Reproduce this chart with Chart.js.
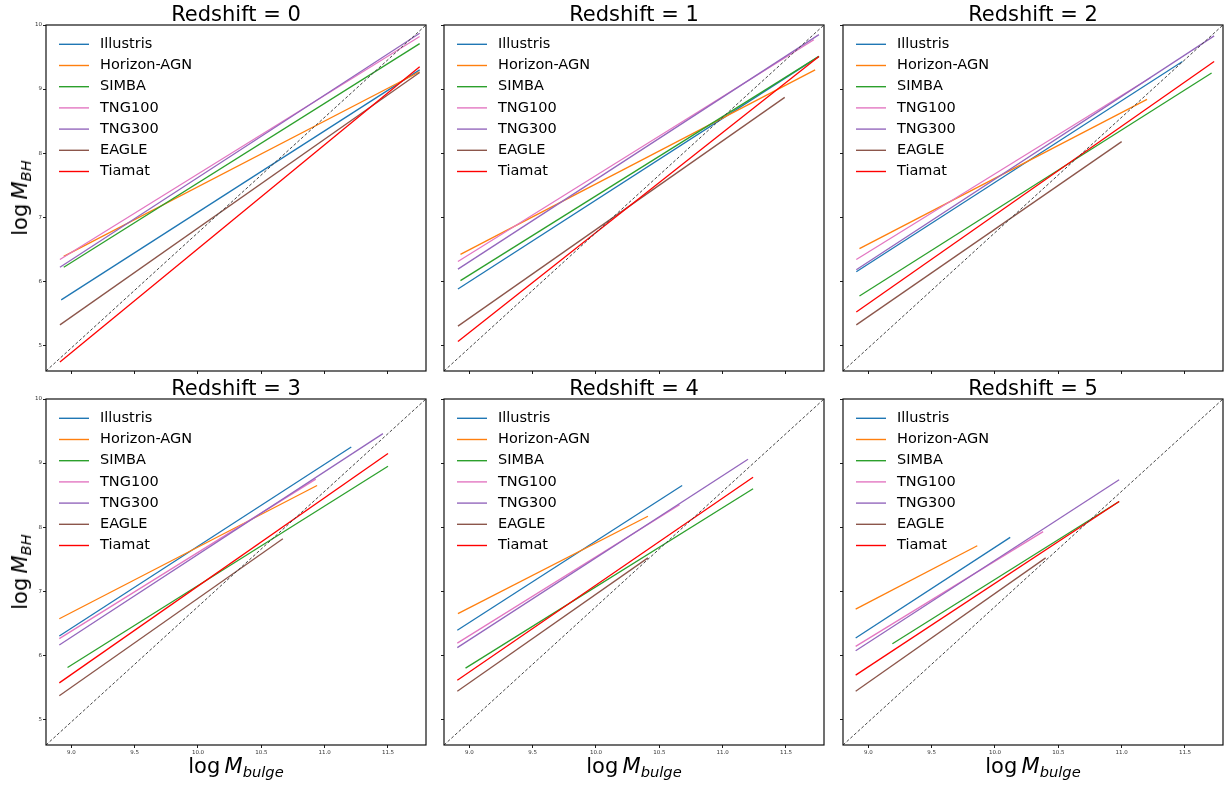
<!DOCTYPE html>
<html>
<head>
<meta charset="utf-8">
<script src="https://cdn.jsdelivr.net/npm/chart.js@4.4.1/dist/chart.umd.min.js"></script>
<style>
  body { margin: 0; background: #fff; font-family: "DejaVu Sans", sans-serif; }
  #fig { position: relative; width: 1229px; height: 787px; overflow: hidden; background: #fff; }
  .pane { position: absolute; }
  .ttl { position: absolute; width: 380px; text-align: center; font-size: 21px; line-height: 25px; white-space: nowrap; color: #000; }
  .lab { position: absolute; font-size: 21px; line-height: 25px; white-space: nowrap; color: #000; }
  .lab i { font-style: oblique; }
  .sb { font-size: 0.7em; font-style: oblique; position: relative; top: 0.28em; }
</style>
</head>
<body>
<div id="fig"></div>
<script>
// ---- data ----------------------------------------------------------
const simNames = ['Illustris', 'Horizon-AGN', 'SIMBA', 'TNG100', 'TNG300', 'EAGLE', 'Tiamat'];
const redshifts = [0, 1, 2, 3, 4, 5];

const xTickVals = [9.0, 9.5, 10.0, 10.5, 11.0, 11.5];
const yTickVals = [5, 6, 7, 8, 9, 10];
const xRange = [8.8, 11.8];
const yRange = [4.6, 10];

// fitted relations: start / end points of each line, per redshift
const z0_xStart = [8.92, 8.94, 8.94, 8.91, 8.91, 8.91, 8.91];
const z0_yStart = [5.71, 6.39, 6.22, 6.34, 6.22, 5.32, 4.74];
const z0_xEnd   = [11.75, 11.75, 11.75, 11.75, 11.75, 11.75, 11.75];
const z0_yEnd   = [9.30, 9.27, 9.71, 9.82, 9.87, 9.26, 9.35];

const z1_xStart = [8.91, 8.93, 8.93, 8.91, 8.91, 8.91, 8.91];
const z1_yStart = [5.88, 6.42, 6.01, 6.31, 6.19, 5.30, 5.06];
const z1_xEnd   = [11.76, 11.73, 11.76, 11.72, 11.76, 11.49, 11.76];
const z1_yEnd   = [9.51, 9.30, 9.51, 9.77, 9.85, 8.87, 9.51];

const z2_xStart = [8.905, 8.93, 8.93, 8.905, 8.905, 8.905, 8.905];
const z2_yStart = [6.15, 6.51, 5.77, 6.34, 6.18, 5.32, 5.52];
const z2_xEnd   = [11.48, 11.20, 11.71, 11.23, 11.73, 11.00, 11.73];
const z2_yEnd   = [9.43, 8.84, 9.25, 9.18, 9.83, 8.18, 9.43];

const z3_xStart = [8.905, 8.905, 8.97, 8.905, 8.905, 8.905, 8.905];
const z3_yStart = [6.30, 6.57, 5.81, 6.26, 6.16, 5.37, 5.57];
const z3_xEnd   = [11.21, 10.94, 11.50, 10.93, 11.46, 10.67, 11.50];
const z3_yEnd   = [9.25, 8.65, 8.95, 8.75, 9.46, 7.82, 9.15];

const z4_xStart = [8.905, 8.91, 8.97, 8.905, 8.905, 8.905, 8.905];
const z4_yStart = [6.39, 6.65, 5.80, 6.19, 6.12, 5.44, 5.61];
const z4_xEnd   = [10.68, 10.41, 11.24, 10.66, 11.20, 10.41, 11.24];
const z4_yEnd   = [8.65, 8.17, 8.60, 8.35, 9.06, 7.52, 8.78];

const z5_xStart = [8.90, 8.90, 9.19, 8.90, 8.90, 8.90, 8.90];
const z5_yStart = [6.27, 6.72, 6.18, 6.14, 6.07, 5.44, 5.69];
const z5_xEnd   = [10.12, 9.86, 10.98, 10.38, 10.98, 10.40, 10.98];
const z5_yEnd   = [7.84, 7.71, 8.40, 7.93, 8.74, 7.52, 8.40];

const panels = [
  [z0_xStart, z0_yStart, z0_xEnd, z0_yEnd],
  [z1_xStart, z1_yStart, z1_xEnd, z1_yEnd],
  [z2_xStart, z2_yStart, z2_xEnd, z2_yEnd],
  [z3_xStart, z3_yStart, z3_xEnd, z3_yEnd],
  [z4_xStart, z4_yStart, z4_xEnd, z4_yEnd],
  [z5_xStart, z5_yStart, z5_xEnd, z5_yEnd]
];

// ---- styling / layout ----------------------------------------------
const lineColors = ['#1f77b4', '#ff7f0e', '#2ca02c', '#e377c2', '#9467bd', '#8c564b', '#ff0000'];
const FONT = '"DejaVu Sans", sans-serif';
const colLeft = [46, 444, 843];
const rowTop = [25, 399];
const plotW = 380, plotH = 346;
const padL = 30, padT = 5, padR = 5, padB = 20;

// box around the axes
const framePlugin = {
  id: 'frame',
  afterDatasetsDraw(chart) {
    const a = chart.chartArea, ctx = chart.ctx;
    ctx.save();
    ctx.strokeStyle = '#111';
    ctx.lineWidth = 1.2;
    ctx.strokeRect(Math.round(a.left), Math.round(a.top), Math.round(a.right - a.left), Math.round(a.bottom - a.top));
    ctx.restore();
  }
};

// matplotlib style legend, upper left, no frame
const legendPlugin = {
  id: 'mplLegend',
  afterDraw(chart) {
    const a = chart.chartArea, ctx = chart.ctx;
    ctx.save();
    ctx.font = '14.5px ' + FONT;
    ctx.textBaseline = 'middle';
    simNames.forEach((name, k) => {
      const y = a.top + 19.3 + k * 21.2;
      ctx.strokeStyle = lineColors[k];
      ctx.lineWidth = 1.4;
      ctx.beginPath();
      ctx.moveTo(a.left + 13, y);
      ctx.lineTo(a.left + 43, y);
      ctx.stroke();
      ctx.fillStyle = '#000';
      ctx.fillText(name, a.left + 54, y);
    });
    ctx.restore();
  }
};

const fig = document.getElementById('fig');

redshifts.forEach((z, i) => {
  const row = Math.floor(i / 3), col = i % 3;
  const [xs, ys, xe, ye] = panels[i];

  const wrap = document.createElement('div');
  wrap.className = 'pane';
  wrap.style.left = (colLeft[col] - padL) + 'px';
  wrap.style.top = (rowTop[row] - padT) + 'px';
  const cv = document.createElement('canvas');
  cv.width = plotW + padL + padR;
  cv.height = plotH + padT + padB;
  cv.style.width = cv.width + 'px';
  cv.style.height = cv.height + 'px';
  wrap.appendChild(cv);
  fig.appendChild(wrap);

  const datasets = simNames.map((name, k) => ({
    label: name,
    data: [{ x: xs[k], y: ys[k] }, { x: xe[k], y: ye[k] }],
    borderColor: lineColors[k],
    borderWidth: 1.3,
    pointRadius: 0,
    showLine: true,
    fill: false,
    order: 10 - k
  }));
  // one-to-one guide across the axes
  datasets.push({
    label: 'diag',
    data: [{ x: xRange[0], y: yRange[0] }, { x: xRange[1], y: yRange[1] }],
    borderColor: '#444',
    borderDash: [3, 2],
    borderWidth: 1,
    pointRadius: 0,
    showLine: true,
    fill: false,
    order: 0
  });

  new Chart(cv, {
    type: 'scatter',
    data: { datasets: datasets },
    options: {
      responsive: false,
      animation: false,
      events: [],
      layout: { padding: { top: padT, right: padR, left: 0, bottom: 0 } },
      plugins: { legend: { display: false }, tooltip: { enabled: false } },
      scales: {
        x: {
          type: 'linear',
          min: xRange[0],
          max: xRange[1],
          afterBuildTicks: s => { s.ticks = xTickVals.map(v => ({ value: v })); },
          afterFit: s => { s.height = padB; s.paddingLeft = 0; s.paddingRight = 0; },
          ticks: {
            display: row === 1,
            autoSkip: false,
            maxRotation: 0,
            padding: 1,
            color: '#333',
            font: { size: 5.5, family: FONT },
            callback: v => Number(v).toFixed(1)
          },
          grid: { display: true, drawOnChartArea: false, drawTicks: true, tickLength: 3, color: '#000', lineWidth: 0.9 },
          border: { display: false }
        },
        y: {
          type: 'linear',
          min: yRange[0],
          max: yRange[1],
          afterBuildTicks: s => { s.ticks = yTickVals.map(v => ({ value: v })); },
          afterFit: s => { s.width = padL; s.paddingTop = 0; s.paddingBottom = 0; },
          ticks: {
            display: col === 0,
            autoSkip: false,
            padding: 1,
            color: '#333',
            font: { size: 5.5, family: FONT },
            callback: v => String(v)
          },
          grid: { display: true, drawOnChartArea: false, drawTicks: true, tickLength: 3, color: '#000', lineWidth: 0.9 },
          border: { display: false }
        }
      }
    },
    plugins: [framePlugin, legendPlugin]
  });

  // panel title
  const t = document.createElement('div');
  t.className = 'ttl';
  t.style.left = colLeft[col] + 'px';
  t.style.top = (row === 0 ? 1.5 : 375.5) + 'px';
  t.textContent = 'Redshift = ' + z;
  fig.appendChild(t);

  // axis labels on the outer panels
  if (row === 1) {
    const xl = document.createElement('div');
    xl.className = 'lab';
    xl.style.left = (colLeft[col] + plotW / 2) + 'px';
    xl.style.top = '754px';
    xl.style.transform = 'translateX(-50%)';
    xl.innerHTML = 'log&#8201;<i>M</i><span class="sb">bulge</span>';
    fig.appendChild(xl);
  }
  if (col === 0) {
    const yl = document.createElement('div');
    yl.className = 'lab';
    yl.style.left = '21px';
    yl.style.top = (rowTop[row] + plotH / 2) + 'px';
    yl.style.transform = 'translate(-50%, -50%) rotate(-90deg)';
    yl.innerHTML = 'log&#8201;<i>M</i><span class="sb">BH</span>';
    fig.appendChild(yl);
  }
});
</script>
</body>
</html>
